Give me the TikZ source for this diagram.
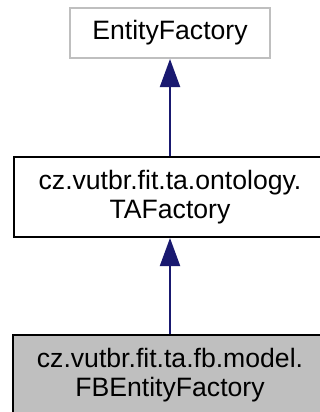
\documentclass[tikz,border=0pt]{standalone}
\usepackage{fontspec}
\setmainfont{Liberation Sans}
\usetikzlibrary{arrows.meta}
\definecolor{boxgray}{HTML}{BFBFBF}
\definecolor{edgeblue}{HTML}{191970}
\begin{document}
\begin{tikzpicture}[x=1pt,y=-1pt,
  cls/.style={draw=black,fill=white,line width=2pt,rectangle,inner sep=0pt,align=center,
    font=\fontsize{26.6}{29}\selectfont},
  inh/.style={draw=edgeblue,line width=2pt,-{Triangle[length=28pt,width=20pt]}}]
\useasboundingbox (0,0) rectangle (320,412);
\clip (0,0) rectangle (320,412);
\node[cls,draw=boxgray,minimum width=200pt,minimum height=50pt] (ef) at (170,33) {EntityFactory};
\node[cls,minimum width=312pt,minimum height=80pt] (ta) at (170,197) {cz.vutbr.fit.ta.ontology.\\TAFactory};
\node[cls,fill=boxgray,minimum width=314pt,minimum height=80pt] (fb) at (170,375) {cz.vutbr.fit.ta.fb.model.\\FBEntityFactory};
\draw[inh] (ta.north) -- (ef.south);
\draw[inh] (fb.north) -- (ta.south);
\end{tikzpicture}
\end{document}
